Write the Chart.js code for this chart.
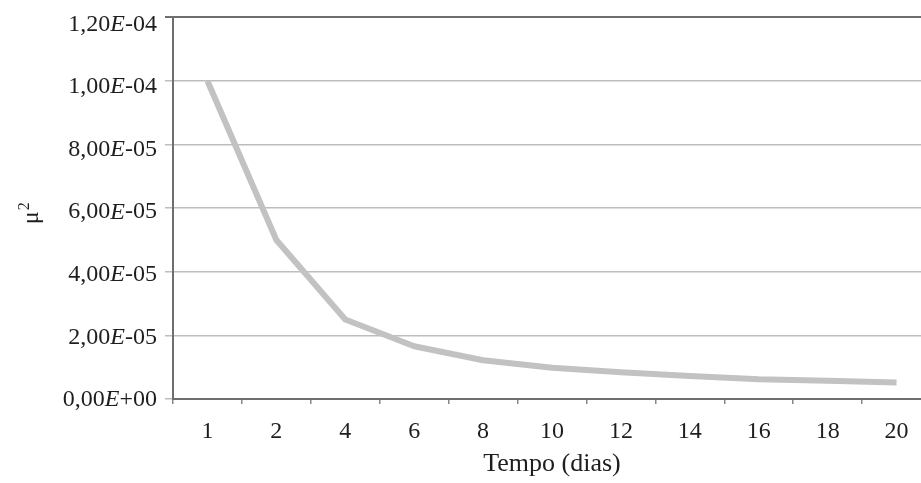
<!DOCTYPE html>
<html>
<head>
<meta charset="utf-8">
<script src="https://cdn.jsdelivr.net/npm/chart.js@4/dist/chart.umd.min.js"></script>
<style>
  html, body { margin: 0; padding: 0; background: #fff; overflow: hidden; }
  #wrap { width: 935px; height: 483px; }
</style>
</head>
<body>
<div id="wrap"><canvas id="c" width="935" height="483"></canvas></div>
<script>
// ---- data ----
const categories = ['1', '2', '4', '6', '8', '10', '12', '14', '16', '18', '20'];
const muSquared = [1.0e-4, 5.0e-5, 2.5e-5, 1.66e-5, 1.22e-5, 9.8e-6, 8.4e-6, 7.2e-6, 6.2e-6, 5.7e-6, 5.2e-6];
const yTickValues = [0, 2e-5, 4e-5, 6e-5, 8e-5, 1.0e-4, 1.2e-4];
const yTickLabels = ['0,00E+00', '2,00E-05', '4,00E-05', '6,00E-05', '8,00E-05', '1,00E-04', '1,20E-04'];
const xTitle = 'Tempo (dias)';
const yTitleBase = 'μ';
const yTitleSup = '2';

const FONT = '"Liberation Serif", "Times New Roman", serif';
const TEXT = '#1e1e1e';

const textPlugin = {
  id: 'serifText',
  afterDraw(chart) {
    const scale = chart.scales.y;
    const ctx = chart.ctx;
    ctx.save();
    ctx.fillStyle = TEXT;
    ctx.textBaseline = 'middle';
    ctx.textAlign = 'left';
    const yMax = scale.max;
    yTickValues.forEach((v, i) => {
      const label = yTickLabels[i];
      const py = scale.getPixelForValue(v) + 1 + 6 * (v / yMax);
      const k = label.indexOf('E');
      const parts = [
        [label.slice(0, k), 'normal'],
        ['E', 'italic'],
        [label.slice(k + 1), 'normal']
      ];
      let total = 0;
      parts.forEach(p => { ctx.font = p[1] + ' 24px ' + FONT; total += ctx.measureText(p[0]).width; });
      let x = scale.right - 16 - total;
      parts.forEach(p => {
        ctx.font = p[1] + ' 24px ' + FONT;
        ctx.fillText(p[0], x, py);
        x += ctx.measureText(p[0]).width;
      });
    });
    // rotated y-axis title: mu with superscript 2
    const area = chart.chartArea;
    const cy = (area.top + area.bottom) / 2 + 16;
    ctx.translate(38, cy);
    ctx.rotate(-Math.PI / 2);
    ctx.textBaseline = 'alphabetic';
    ctx.font = '24px ' + FONT;
    ctx.fillText(yTitleBase, 0, 0);
    const w = ctx.measureText(yTitleBase).width;
    ctx.font = '16px ' + FONT;
    ctx.fillText(yTitleSup, w + 1, -9);
    ctx.restore();
  }
};

new Chart(document.getElementById('c'), {
  type: 'line',
  data: {
    labels: categories,
    datasets: [{
      data: muSquared,
      borderColor: '#c2c2c2',
      borderWidth: 6,
      pointRadius: 0,
      tension: 0,
      fill: false,
      borderJoinStyle: 'round'
    }]
  },
  options: {
    responsive: false,
    animation: false,
    layout: { padding: { left: 0, right: 4, top: 15, bottom: 0 } },
    plugins: { legend: { display: false }, tooltip: { enabled: false } },
    scales: {
      x: {
        type: 'category',
        offset: true,
        grid: {
          offset: true,
          drawOnChartArea: false,
          drawTicks: true,
          tickLength: 5,
          color: '#888',
          lineWidth: 1.5
        },
        border: { display: true, color: '#6e6e6e', width: 2 },
        ticks: { color: TEXT, font: { family: FONT, size: 24 }, padding: 13, maxRotation: 0, autoSkip: false },
        title: { display: true, text: xTitle, color: TEXT, font: { family: FONT, size: 26 }, padding: { top: 0, bottom: 3 } },
        afterFit(s) { s.height = 84; }
      },
      y: {
        min: 0,
        max: 1.2e-4,
        ticks: {
          stepSize: 2e-5,
          color: 'rgba(0,0,0,0)',
          font: { family: FONT, size: 24 },
          callback: (v, i) => yTickLabels[i]
        },
        grid: {
          drawTicks: true,
          tickLength: 8,
          color: c => (c.tick && c.tick.value > 1.19e-4) ? '#6e6e6e' : '#bdbdbd',
          lineWidth: c => (c.tick && c.tick.value > 1.19e-4) ? 2 : 1.5
        },
        border: { display: true, color: '#6e6e6e', width: 2 },
        title: { display: false },
        afterFit(s) { s.width = 173; }
      }
    }
  },
  plugins: [textPlugin]
});
</script>
</body>
</html>
